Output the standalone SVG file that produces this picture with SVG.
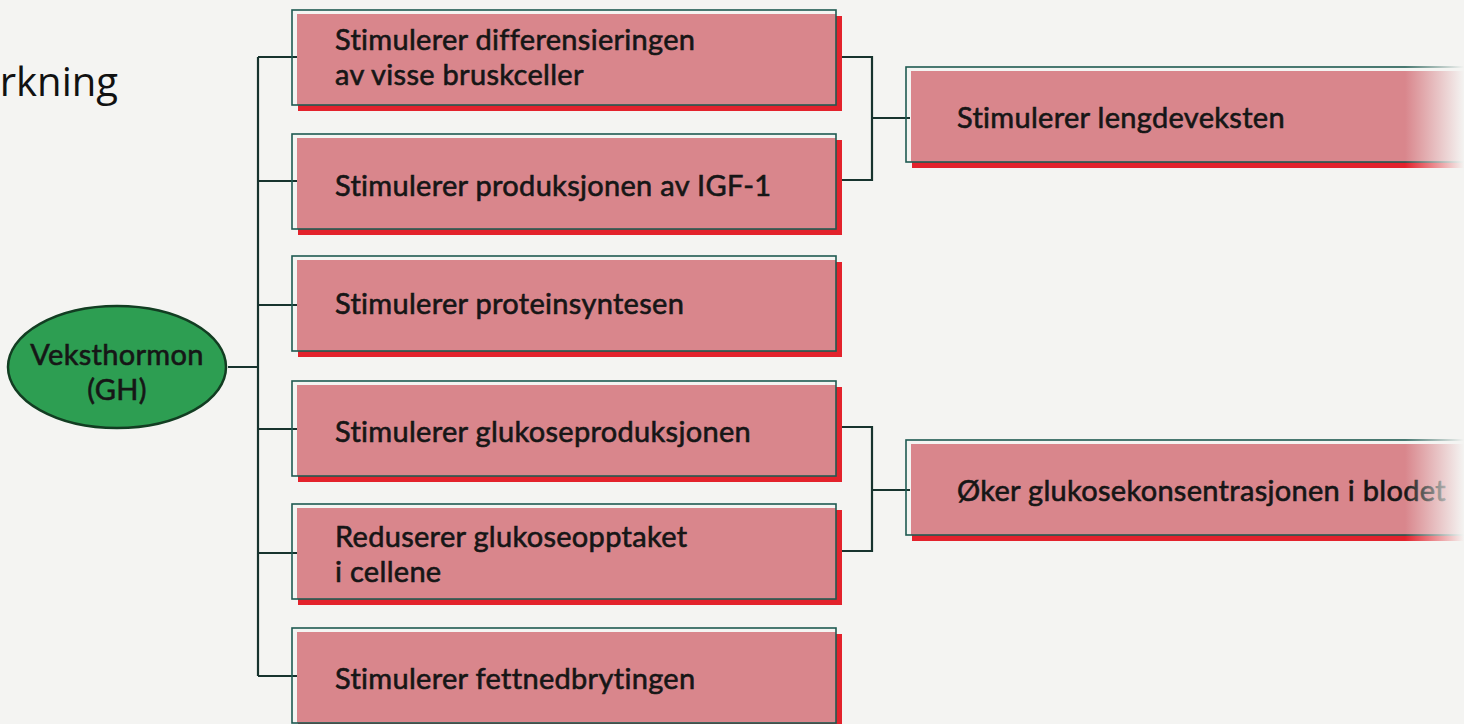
<svg xmlns="http://www.w3.org/2000/svg" width="1464" height="724" viewBox="0 0 1464 724">
<defs>
<linearGradient id="fade" gradientUnits="userSpaceOnUse" x1="1405" y1="0" x2="1464" y2="0">
<stop offset="0" stop-color="#f4f4f2" stop-opacity="0"/>
<stop offset="1" stop-color="#f4f4f2" stop-opacity="1"/>
</linearGradient>
</defs>
<style>
.bg{fill:#f4f4f2}
.sh{fill:#e3222c}
.pk{fill:#d9868c}
.ol{fill:none;stroke:#1f5a52;stroke-width:1.6}
.ln{fill:none;stroke:#17332e;stroke-width:2.2}
.t{font-family:Lato,"Open Sans",sans-serif;font-size:29px;letter-spacing:0.3px;fill:#161616;stroke:#161616;stroke-width:0.6}
.ell{fill:#2d9e52;stroke:#123d22;stroke-width:2.5}
.hd{font-family:"Open Sans","Liberation Sans",sans-serif;font-size:40px;fill:#111}
</style>
<rect class="bg" x="0" y="0" width="1464" height="724"/>
<text class="hd" x="118" y="96" text-anchor="end">rkning</text>

<g id="connectors">
<path class="ln" d="M228,367 H258 M258,57 V676 M258,57 H297 M258,181 H297 M258,305 H297 M258,429 H297 M258,553 H297 M258,676 H297"/>
<path class="ln" d="M842,57 H872 V180 H842 M872,118 H910"/>
<path class="ln" d="M842,427 H872 V551 H842 M872,490 H910"/>
</g>

<g id="gh">
<ellipse class="ell" cx="117" cy="367" rx="109" ry="61"/>
<text class="t" x="117" y="365" text-anchor="middle">Veksthormon</text>
<text class="t" x="117" y="400" text-anchor="middle">(GH)</text>
</g>

<g id="b1">
<rect class="sh" x="298" y="16" width="544" height="95"/>
<rect class="pk" x="297" y="14" width="539" height="91"/>
<rect class="ol" x="292" y="10" width="544" height="95"/>
<text class="t" x="335" y="50">Stimulerer differensieringen</text>
<text class="t" x="335" y="85">av visse bruskceller</text>
</g>
<g id="b2">
<rect class="sh" x="298" y="140" width="544" height="95"/>
<rect class="pk" x="297" y="138" width="539" height="91"/>
<rect class="ol" x="292" y="134" width="544" height="95"/>
<text class="t" x="335" y="196">Stimulerer produksjonen av IGF-1</text>
</g>
<g id="b3">
<rect class="sh" x="298" y="262" width="544" height="95"/>
<rect class="pk" x="297" y="260" width="539" height="91"/>
<rect class="ol" x="292" y="256" width="544" height="95"/>
<text class="t" x="335" y="314">Stimulerer proteinsyntesen</text>
</g>
<g id="b4">
<rect class="sh" x="298" y="387" width="544" height="95"/>
<rect class="pk" x="297" y="385" width="539" height="91"/>
<rect class="ol" x="292" y="381" width="544" height="95"/>
<text class="t" x="335" y="442">Stimulerer glukoseproduksjonen</text>
</g>
<g id="b5">
<rect class="sh" x="298" y="510" width="544" height="95"/>
<rect class="pk" x="297" y="508" width="539" height="91"/>
<rect class="ol" x="292" y="504" width="544" height="95"/>
<text class="t" x="335" y="547">Reduserer glukoseopptaket</text>
<text class="t" x="335" y="582">i cellene</text>
</g>
<g id="b6">
<rect class="sh" x="298" y="634" width="544" height="95"/>
<rect class="pk" x="297" y="632" width="539" height="91"/>
<rect class="ol" x="292" y="628" width="544" height="95"/>
<text class="t" x="335" y="689">Stimulerer fettnedbrytingen</text>
</g>

<g id="r1">
<rect class="sh" x="912" y="73" width="560" height="95"/>
<rect class="pk" x="911" y="71" width="560" height="91"/>
<rect class="ol" x="906" y="67" width="570" height="95"/>
<text class="t" x="957" y="128">Stimulerer lengdeveksten</text>
</g>
<g id="r2">
<rect class="sh" x="912" y="446" width="560" height="95"/>
<rect class="pk" x="911" y="444" width="560" height="91"/>
<rect class="ol" x="906" y="440" width="570" height="95"/>
<text class="t" x="957" y="501">Øker glukosekonsentrasjonen i blodet</text>
</g>
<rect x="1405" y="0" width="59" height="724" fill="url(#fade)"/>
</svg>
